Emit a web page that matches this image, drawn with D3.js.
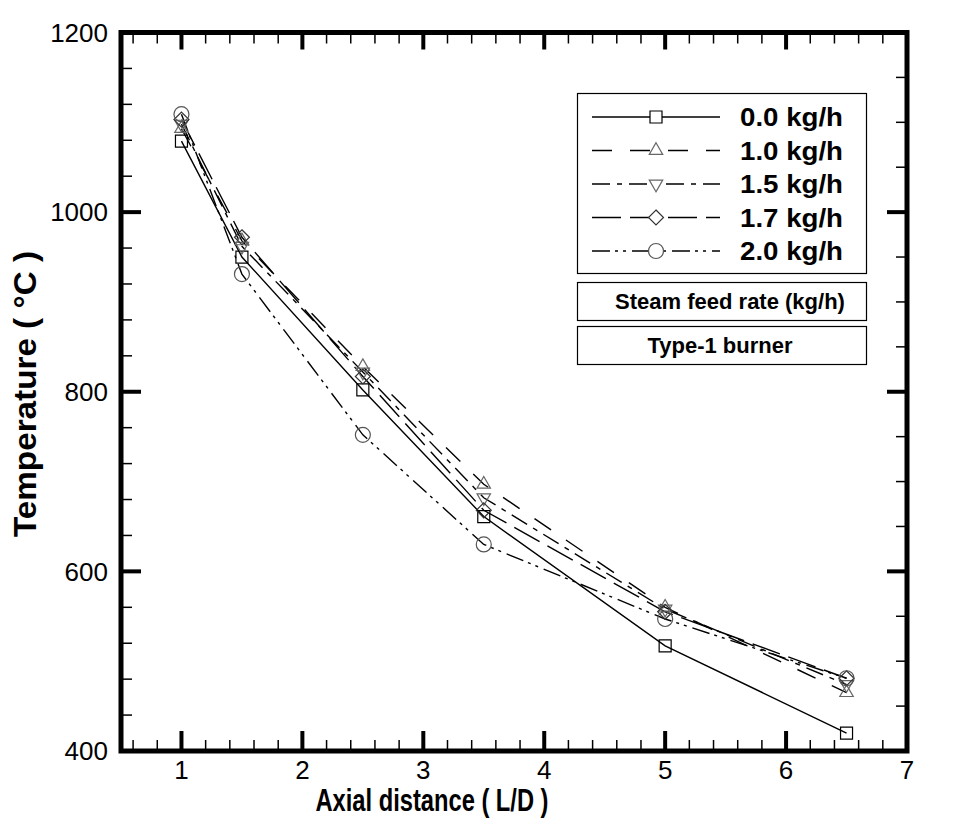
<!DOCTYPE html>
<html>
<head>
<meta charset="utf-8">
<script src="https://cdn.jsdelivr.net/npm/d3@7"></script>
<style>
    body { margin: 0; background: #fff; }
    svg { display: block; font-family: "Liberation Sans", Arial, sans-serif; }
</style>
</head>
<body>
<div id="chart"></div>
<script>
// Axial positions (L/D) and temperatures (°C) per steam feed rate
const axialPos = [1, 1.5, 2.5, 3.5, 5, 6.5];
const temp00 = [1079, 950, 802, 661, 517, 420];
const temp10 = [1093, 968, 828, 697, 560, 465];
const temp15 = [1098, 962, 822, 682, 558, 474];
const temp17 = [1103, 972, 817, 668, 555, 481];
const temp20 = [1109, 931, 752, 630, 547, 481];

const seriesLabels = ["0.0 kg/h", "1.0 kg/h", "1.5 kg/h", "1.7 kg/h", "2.0 kg/h"];
const xTicks = [1, 2, 3, 4, 5, 6, 7];
const yTicks = [400, 600, 800, 1000, 1200];

const width = 965, height = 838;

const svg = d3.select("#chart").append("svg")
    .attr("width", width)
    .attr("height", height);

const x = d3.scaleLinear().domain([0.5, 7]).range([121, 907]);
const y = d3.scaleLinear().domain([400, 1200]).range([751, 32.5]);

// line styles and markers for each series
const styles = [
    { dash: null, symbol: d3.symbolSquare, size: 144, rot: 0, mcolor: "#000" },
    { dash: "20,18", symbol: d3.symbolTriangle, size: 78, rot: 0, mcolor: "#666" },
    { dash: "18,7,5,7", symbol: d3.symbolTriangle, size: 78, rot: 180, mcolor: "#666" },
    { dash: "29,9", symbol: d3.symbolDiamond2, size: 143, rot: 0, mcolor: "#333" },
    { dash: "18,5,3,5,3,6", symbol: d3.symbolCircle, size: 177, rot: 0, mcolor: "#555" }
];

const series = [temp00, temp10, temp15, temp17, temp20].map((vals, i) => ({
    label: seriesLabels[i],
    style: styles[i],
    points: axialPos.map((p, j) => ({ x: p, y: vals[j] }))
}));

const line = d3.line().x(d => x(d.x)).y(d => y(d.y));

// Draw lines
svg.selectAll("path.series")
    .data(series)
    .enter()
    .append("path")
    .attr("class", "series")
    .attr("d", d => line(d.points))
    .attr("fill", "none")
    .attr("stroke", "#000")
    .attr("stroke-width", 1.4)
    .attr("stroke-dasharray", d => d.style.dash);

// Draw markers
series.forEach(s => {
    svg.selectAll(null)
        .data(s.points)
        .enter()
        .append("path")
        .attr("d", d3.symbol().type(s.style.symbol).size(s.style.size))
        .attr("transform", d => `translate(${x(d.x)},${y(d.y)}) rotate(${s.style.rot})`)
        .attr("fill", "none")
        .attr("stroke", s.style.mcolor)
        .attr("stroke-width", 1.2);
});

// Ticks on all four sides, pointing inward
const x0 = x.range()[0], x1 = x.range()[1];
const y0 = y.range()[0], y1 = y.range()[1];
const xMinor = d3.range(0.6, 7, 0.2).filter(v => Math.abs(v - Math.round(v)) > 1e-6);
const leftMinor = d3.range(440, 1200, 40).filter(v => v % 200 !== 0);
const rightMinor = d3.range(450, 1200, 50).filter(v => v % 200 !== 0);

function tickLines(data, x1f, y1f, x2f, y2f, w) {
    svg.append("g").selectAll("line")
        .data(data)
        .enter()
        .append("line")
        .attr("x1", x1f).attr("y1", y1f)
        .attr("x2", x2f).attr("y2", y2f)
        .attr("stroke", "#000")
        .attr("stroke-width", w);
}

// bottom + top
tickLines(xTicks, d => x(d), y0, d => x(d), y0 - 20, 4);
tickLines(xMinor, d => x(d), y0, d => x(d), y0 - 11, 1.5);
tickLines(xTicks, d => x(d), y1, d => x(d), y1 + 17, 4);
tickLines(xMinor, d => x(d), y1, d => x(d), y1 + 11, 1.5);
// left + right
tickLines(yTicks, x0, d => y(d), x0 + 20, d => y(d), 4);
tickLines(leftMinor, x0, d => y(d), x0 + 11, d => y(d), 1.5);
tickLines(yTicks, x1, d => y(d), x1 - 20, d => y(d), 4);
tickLines(rightMinor, x1, d => y(d), x1 - 11, d => y(d), 1.5);

// Frame
svg.append("rect")
    .attr("x", x0).attr("y", y1)
    .attr("width", x1 - x0).attr("height", y0 - y1)
    .attr("fill", "none")
    .attr("stroke", "#000")
    .attr("stroke-width", 5);

// Tick labels
svg.selectAll("text.xtick")
    .data(xTicks)
    .enter()
    .append("text")
    .attr("class", "xtick")
    .attr("x", d => x(d))
    .attr("y", 779)
    .attr("text-anchor", "middle")
    .style("font-size", "26px")
    .text(d => d);

svg.selectAll("text.ytick")
    .data(yTicks)
    .enter()
    .append("text")
    .attr("class", "ytick")
    .attr("x", 108)
    .attr("y", d => y(d))
    .attr("dy", "0.36em")
    .attr("text-anchor", "end")
    .style("font-size", "26px")
    .text(d => d);

// Axis titles
svg.append("text")
    .attr("x", 432)
    .attr("y", 811)
    .attr("text-anchor", "middle")
    .attr("textLength", 233)
    .attr("lengthAdjust", "spacingAndGlyphs")
    .style("font-size", "31px")
    .style("font-weight", "bold")
    .text("Axial distance ( L/D )");

svg.append("text")
    .attr("transform", "translate(36,394) rotate(-90)")
    .attr("text-anchor", "middle")
    .attr("textLength", 286)
    .attr("lengthAdjust", "spacingAndGlyphs")
    .style("font-size", "31px")
    .style("font-weight", "bold")
    .text("Temperature ( °C )");

// Legend
const legend = svg.append("g");
legend.append("rect")
    .attr("x", 577.5).attr("y", 93.5)
    .attr("width", 289).attr("height", 180)
    .attr("fill", "#fff").attr("stroke", "#000").attr("stroke-width", 1.2);

const rowY = d3.scaleLinear().domain([0, 4]).range([117, 251]);
series.forEach((s, i) => {
    const ry = rowY(i);
    legend.append("line")
        .attr("x1", 592).attr("x2", 720)
        .attr("y1", ry).attr("y2", ry)
        .attr("stroke", "#000").attr("stroke-width", 1.4)
        .attr("stroke-dasharray", s.style.dash);
    legend.append("path")
        .attr("d", d3.symbol().type(s.style.symbol).size(s.style.size))
        .attr("transform", `translate(656,${ry}) rotate(${s.style.rot})`)
        .attr("fill", "#fff")
        .attr("stroke", s.style.mcolor)
        .attr("stroke-width", 1.2);
    legend.append("text")
        .attr("x", 740).attr("y", ry)
        .attr("dy", "0.36em")
        .attr("textLength", 103)
        .attr("lengthAdjust", "spacingAndGlyphs")
        .style("font-size", "25px")
        .style("font-weight", "bold")
        .text(s.label);
});

// Note boxes
const notes = [
    { text: "Steam feed rate (kg/h)", y: 282.5, h: 38, cx: 730 },
    { text: "Type-1 burner", y: 326.5, h: 38, cx: 720 }
];
notes.forEach(n => {
    legend.append("rect")
        .attr("x", 577.5).attr("y", n.y)
        .attr("width", 289).attr("height", n.h)
        .attr("fill", "#fff").attr("stroke", "#000").attr("stroke-width", 1.2);
    legend.append("text")
        .attr("x", n.cx).attr("y", n.y + n.h / 2)
        .attr("dy", "0.36em")
        .attr("text-anchor", "middle")
        .style("font-size", "22px")
        .style("font-weight", "bold")
        .text(n.text);
});
</script>
</body>
</html>
